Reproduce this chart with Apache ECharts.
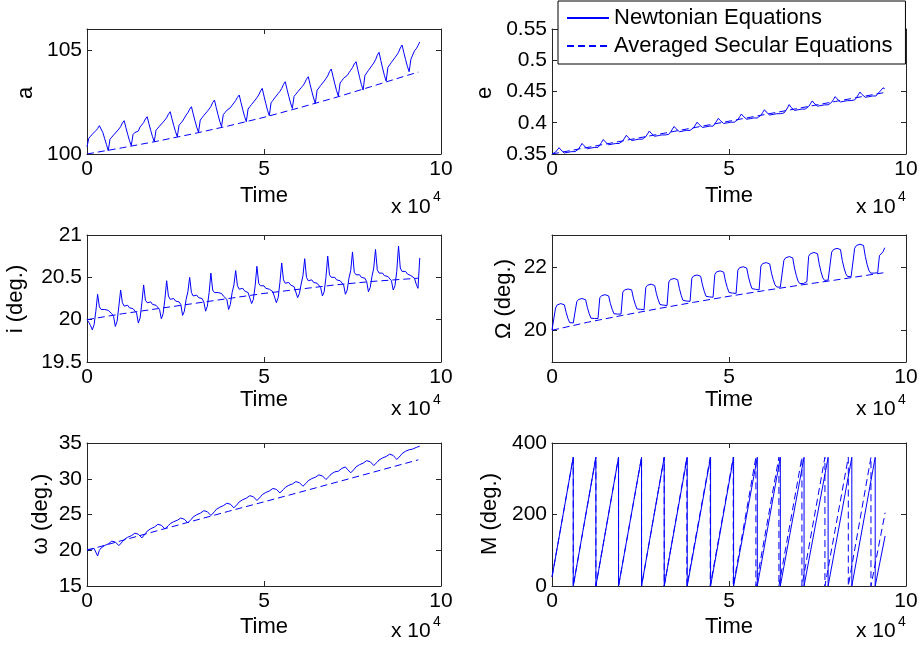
<!DOCTYPE html>
<html><head><meta charset="utf-8">
<script src="https://cdn.jsdelivr.net/npm/echarts@6/dist/echarts.min.js"></script>
<style>html,body{margin:0;padding:0;background:#fff}#c{width:922px;height:656px}</style>
</head><body><div id="c"></div>
<script>
// ---------- DATA (time in model units; axes show x 10^4) ----------
const timeGrid = [
0,500,1000,1500,2000,2500,3000,3500,4000,4500,
5000,5500,6000,6500,7000,7500,8000,8500,9000,9500,
10000,10500,11000,11500,12000,12500,13000,13500,14000,14500,
15000,15500,16000,16500,17000,17500,18000,18500,19000,19500,
20000,20500,21000,21500,22000,22500,23000,23500,24000,24500,
25000,25500,26000,26500,27000,27500,28000,28500,29000,29500,
30000,30500,31000,31500,32000,32500,33000,33500,34000,34500,
35000,35500,36000,36500,37000,37500,38000,38500,39000,39500,
40000,40500,41000,41500,42000,42500,43000,43500,44000,44500,
45000,45500,46000,46500,47000,47500,48000,48500,49000,49500,
50000,50500,51000,51500,52000,52500,53000,53500,54000,54500,
55000,55500,56000,56500,57000,57500,58000,58500,59000,59500,
60000,60500,61000,61500,62000,62500,63000,63500,64000,64500,
65000,65500,66000,66500,67000,67500,68000,68500,69000,69500,
70000,70500,71000,71500,72000,72500,73000,73500,74000,74500,
75000,75500,76000,76500,77000,77500,78000,78500,79000,79500,
80000,80500,81000,81500,82000,82500,83000,83500,84000,84500,
85000,85500,86000,86500,87000,87500,88000,88500,89000,89500,
90000,90500,91000,91500,92000,92500,93000,93500,94000];

const aNewton = [
100.35,100.75,100.85,100.95,100.92,101.12,101.22,101.36,101.28,101.02,
100.73,100.45,100.16,100.71,100.81,100.91,100.88,101.10,101.20,101.31,
101.49,101.60,101.26,100.94,100.64,100.40,100.93,101.03,101.12,101.10,
101.30,101.40,101.51,101.68,101.79,101.45,101.13,100.83,100.59,101.14,
101.24,101.34,101.31,101.53,101.63,101.74,101.91,102.03,101.69,101.37,
101.07,100.83,101.38,101.48,101.58,101.72,101.87,101.98,102.15,102.27,
101.93,101.59,101.29,101.04,101.63,101.74,101.85,101.82,102.05,102.16,
102.28,102.47,102.59,102.23,101.89,101.57,101.31,101.89,101.99,102.10,
102.07,102.22,102.34,102.45,102.57,102.72,102.83,102.47,102.13,101.81,
101.55,102.16,102.27,102.38,102.35,102.59,102.70,102.83,103.02,103.15,
102.78,102.43,102.10,101.84,102.46,102.57,102.69,102.66,102.90,103.01,
103.14,103.34,103.47,103.11,102.77,102.45,102.19,102.77,102.87,102.98,
102.95,103.18,103.28,103.41,103.59,103.71,103.35,103.01,102.69,102.43,
103.06,103.17,103.29,103.26,103.50,103.62,103.75,103.95,104.08,103.72,
103.37,103.04,102.78,103.41,103.52,103.64,103.61,103.77,103.90,104.02,
104.15,104.32,104.43,104.05,103.68,103.34,103.07,103.76,103.89,104.01,
103.98,104.25,104.37,104.52,104.74,104.88,104.49,104.12,103.78,103.50,
104.16,104.28,104.40,104.37,104.63,104.75,104.88,105.09,105.23,104.87,
104.53,104.21,103.95,104.55,104.75,104.95,105.05,105.20,105.38];

const eNewton = [
0.3500,0.3505,0.3530,0.3566,0.3601,0.3566,0.3541,0.3517,0.3532,0.3527,
0.3552,0.3538,0.3553,0.3538,0.3553,0.3579,0.3624,0.3669,0.3634,0.3609,
0.3585,0.3600,0.3595,0.3620,0.3606,0.3621,0.3606,0.3641,0.3687,0.3732,
0.3697,0.3672,0.3648,0.3663,0.3658,0.3683,0.3668,0.3684,0.3669,0.3684,
0.3709,0.3755,0.3800,0.3765,0.3740,0.3716,0.3731,0.3726,0.3751,0.3737,
0.3752,0.3737,0.3752,0.3777,0.3823,0.3868,0.3833,0.3808,0.3784,0.3799,
0.3794,0.3819,0.3805,0.3820,0.3805,0.3820,0.3816,0.3851,0.3896,0.3941,
0.3906,0.3882,0.3857,0.3872,0.3867,0.3893,0.3878,0.3893,0.3878,0.3894,
0.3919,0.3964,0.4009,0.3975,0.3950,0.3925,0.3940,0.3935,0.3961,0.3946,
0.3961,0.3946,0.3982,0.4027,0.4072,0.4037,0.4013,0.3988,0.4003,0.3998,
0.4024,0.4009,0.4024,0.4009,0.4024,0.4050,0.4095,0.4140,0.4105,0.4081,
0.4056,0.4071,0.4066,0.4092,0.4077,0.4092,0.4077,0.4093,0.4118,0.4163,
0.4208,0.4173,0.4149,0.4124,0.4139,0.4134,0.4160,0.4145,0.4160,0.4145,
0.4161,0.4156,0.4191,0.4236,0.4291,0.4247,0.4222,0.4197,0.4212,0.4208,
0.4233,0.4218,0.4233,0.4219,0.4234,0.4259,0.4304,0.4350,0.4315,0.4290,
0.4265,0.4280,0.4276,0.4301,0.4286,0.4301,0.4287,0.4302,0.4327,0.4372,
0.4418,0.4383,0.4358,0.4333,0.4349,0.4344,0.4369,0.4354,0.4369,0.4355,
0.4370,0.4365,0.4400,0.4446,0.4491,0.4456,0.4431,0.4407,0.4422,0.4417,
0.4442,0.4428,0.4443,0.4428,0.4463,0.4489,0.4524,0.4559,0.4544];

const iNewton = [
20.00,19.97,19.93,19.88,19.94,20.10,20.30,20.15,20.12,20.11,
20.12,20.10,20.11,20.09,20.07,20.04,19.92,19.98,20.16,20.35,
20.20,20.16,20.16,20.17,20.14,20.16,20.13,20.11,20.08,19.96,
20.02,20.20,20.41,20.23,20.20,20.19,20.21,20.18,20.20,20.17,
20.15,20.12,20.01,20.07,20.24,20.46,20.28,20.24,20.24,20.25,
20.22,20.24,20.21,20.18,20.05,20.10,20.24,20.33,20.50,20.32,
20.28,20.27,20.29,20.26,20.27,20.25,20.21,20.10,20.16,20.32,
20.55,20.35,20.32,20.31,20.32,20.30,20.31,20.28,20.27,20.24,
20.12,20.18,20.32,20.41,20.58,20.40,20.36,20.35,20.37,20.34,
20.35,20.32,20.30,20.19,20.24,20.40,20.63,20.43,20.40,20.39,
20.40,20.37,20.39,20.36,20.35,20.33,20.31,20.20,20.26,20.44,
20.67,20.47,20.43,20.43,20.44,20.41,20.42,20.39,20.37,20.26,
20.31,20.42,20.52,20.72,20.50,20.46,20.46,20.47,20.44,20.45,
20.43,20.41,20.38,20.28,20.33,20.50,20.75,20.53,20.50,20.49,
20.50,20.47,20.49,20.46,20.44,20.41,20.30,20.35,20.49,20.58,
20.80,20.56,20.53,20.52,20.53,20.50,20.51,20.49,20.45,20.33,
20.38,20.51,20.61,20.83,20.59,20.55,20.54,20.55,20.52,20.54,
20.51,20.49,20.46,20.35,20.40,20.57,20.87,20.61,20.57,20.56,
20.57,20.54,20.56,20.52,20.51,20.49,20.42,20.37,20.73];

const nodeNewton = [
20.01,20.03,20.70,20.80,20.78,20.84,20.86,20.80,20.56,20.37,
20.24,20.19,20.23,20.19,20.90,20.97,20.94,21.00,21.02,20.96,
20.71,20.53,20.38,20.33,20.37,20.34,20.37,21.02,21.09,21.06,
21.12,21.14,21.08,20.84,20.66,20.52,20.47,20.51,20.47,20.51,
21.20,21.27,21.24,21.30,21.33,21.27,21.01,20.82,20.67,20.61,
20.66,20.62,20.65,21.35,21.42,21.39,21.45,21.47,21.41,21.15,
20.96,20.81,20.75,20.79,20.75,20.78,21.52,21.60,21.57,21.63,
21.65,21.59,21.31,21.10,20.94,20.88,20.92,20.88,20.91,21.64,
21.71,21.68,21.74,21.76,21.70,21.43,21.23,21.07,21.01,21.05,
21.01,21.04,21.76,21.84,21.81,21.87,21.89,21.83,21.55,21.35,
21.19,21.13,21.17,21.13,21.16,21.89,21.97,21.94,22.00,22.02,
21.96,21.68,21.47,21.31,21.25,21.29,21.24,21.27,22.02,22.10,
22.07,22.13,22.15,22.09,21.80,21.59,21.43,21.36,21.40,21.36,
21.39,22.20,22.28,22.25,22.32,22.34,22.28,21.96,21.73,21.55,
21.47,21.51,21.47,21.49,21.53,22.33,22.41,22.38,22.45,22.47,
22.41,22.08,21.84,21.65,21.57,21.61,21.58,21.61,22.46,22.54,
22.51,22.58,22.60,22.54,22.20,21.96,21.78,21.69,21.73,21.69,
21.72,22.58,22.67,22.64,22.71,22.74,22.67,22.33,22.08,21.89,
21.80,21.84,21.80,21.82,21.81,22.35,22.40,22.47,22.60];

const periNewton = [
20.10,20.00,20.15,19.95,20.25,20.05,19.20,19.99,20.33,20.44,
20.66,20.60,20.89,21.11,21.27,21.45,21.15,20.90,20.65,20.45,
21.19,21.50,21.61,21.82,21.75,22.03,22.24,22.38,22.55,22.24,
21.99,21.73,21.53,22.33,22.67,22.78,23.01,22.94,23.23,23.46,
23.62,23.80,23.50,23.25,22.99,22.79,23.44,23.72,23.81,24.00,
23.94,24.19,24.37,24.50,24.65,24.34,24.08,23.83,23.62,24.35,
24.66,24.76,24.97,24.91,25.18,25.39,25.53,25.70,25.39,25.12,
24.86,24.65,25.39,25.70,25.81,26.02,25.95,26.23,26.44,26.58,
26.75,26.44,26.18,25.93,25.72,26.45,26.76,26.86,27.07,27.01,
27.28,27.49,27.63,27.80,27.49,27.22,26.96,26.75,27.47,27.78,
27.88,28.08,28.02,28.29,28.49,28.64,28.80,28.51,28.26,28.02,
27.82,28.50,28.79,28.88,29.08,29.02,29.27,29.46,29.60,29.75,
29.45,29.20,28.95,28.75,29.43,29.73,29.82,30.02,29.96,30.21,
30.41,30.54,30.70,30.40,30.15,29.89,29.69,30.38,30.67,30.77,
30.96,30.91,31.06,31.26,31.45,31.55,31.65,31.34,31.08,30.83,
30.62,31.35,31.66,31.76,31.97,31.91,32.18,32.39,32.53,32.70,
32.38,32.12,31.85,31.64,32.33,32.62,32.72,32.91,32.86,33.11,
33.31,33.44,33.60,33.26,32.98,32.70,32.48,33.20,33.52,33.62,
33.85,33.80,34.05,34.20,34.15,34.30,34.38,34.45,34.55];

// Averaged secular solution (dashed)
const aSecT = [0,10000,20000,30000,40000,50000,60000,70000,80000,90000,93600];
const aSecV = [100.0,100.3,100.62,100.97,101.35,101.76,102.22,102.7,103.22,103.75,103.93];
const eSecT = [0,20000,40000,60000,80000,93600];
const eSecV = [0.350,0.371,0.392,0.413,0.434,0.448];
const iSecT = [0,10000,20000,30000,40000,50000,60000,70000,80000,93600];
const iSecV = [20.0,20.07,20.13,20.19,20.25,20.31,20.36,20.41,20.45,20.49];
const nodeSecT = [0,10000,20000,30000,40000,50000,60000,70000,80000,93600];
const nodeSecV = [20.0,20.25,20.47,20.68,20.88,21.07,21.25,21.42,21.58,21.81];
const periSecT = [0,20000,40000,60000,80000,93600];
const periSecV = [20.0,22.75,25.45,28.1,30.8,32.65];

// Mean anomaly (wraps 360 -> 0)
const mNewtonT = [0,6000,6000,12400,12400,18800,18800,25300,25300,31700,31700,38200,38200,44800,44800,51300,51300,58000,58000,64500,64500,71200,71200,78000,78000,84700,84700,91300,91300,94100];
const mNewtonV = [25,360,0,360,0,360,0,360,0,360,0,360,0,360,0,360,0,360,0,360,0,360,0,360,0,360,0,360,0,140];
const mSecT = [0,6000,6000,12400,12400,18800,18800,25300,25300,31700,31700,38100,38100,44700,44700,51200,51200,57600,57600,64100,64100,70600,70600,77100,77100,83700,83700,90100,90100,94100];
const mSecV = [25,360,0,360,0,360,0,360,0,360,0,360,0,360,0,360,0,360,0,360,0,360,0,360,0,360,0,360,0,205];

// Axis tick values
const xTicks = [0, 50000, 100000];
const yTicksA = [100, 105];
const yTicksE = [0.35, 0.4, 0.45, 0.5, 0.55];
const yTicksI = [19.5, 20, 20.5, 21];
const yTicksNode = [20, 22];
const yTicksPeri = [15, 20, 25, 30, 35];
const yTicksM = [0, 200, 400];

const NAME_N = 'Newtonian Equations';
const NAME_S = 'Averaged Secular Equations';

// ---------- LAYOUT ----------
const FONT = '"Liberation Sans", Arial, Helvetica, sans-serif';
const LINE = '#0000ff';
const AX = '#262626';
const W = 354;
const pair = (xs, ys) => xs.map((x, k) => [x, ys[k]]);

const panels = [
  {left: 87,  top: 29,  height: 125, yMin: 100,  yMax: 106,  ticks: yTicksA,    solid: pair(timeGrid, aNewton),    dashed: pair(aSecT, aSecV)},
  {left: 552, top: 29,  height: 125, yMin: 0.35, yMax: 0.55, ticks: yTicksE,    solid: pair(timeGrid, eNewton),    dashed: pair(eSecT, eSecV)},
  {left: 87,  top: 235, height: 127, yMin: 19.5, yMax: 21,   ticks: yTicksI,    solid: pair(timeGrid, iNewton),    dashed: pair(iSecT, iSecV)},
  {left: 552, top: 235, height: 127, yMin: 19,   yMax: 23,   ticks: yTicksNode, solid: pair(timeGrid, nodeNewton), dashed: pair(nodeSecT, nodeSecV)},
  {left: 87,  top: 443, height: 143, yMin: 15,   yMax: 35,   ticks: yTicksPeri, solid: pair(timeGrid, periNewton), dashed: pair(periSecT, periSecV)},
  {left: 552, top: 443, height: 143, yMin: 0,    yMax: 400,  ticks: yTicksM,    solid: pair(mNewtonT, mNewtonV),   dashed: pair(mSecT, mSecV)}
];

const grids = [], xAxes = [], yAxes = [], series = [];
panels.forEach((p, g) => {
  grids.push({left: p.left, top: p.top, width: W, height: p.height, show: false, containLabel: false});
  const common = {
    axisLine: {show: true, onZero: false, lineStyle: {color: AX, width: 1}},
    axisTick: {show: true, inside: true, length: 5, lineStyle: {color: AX, width: 1}},
    splitLine: {show: false}
  };
  xAxes.push(Object.assign({}, common, {
    type: 'value', gridIndex: g, position: 'bottom', min: 0, max: 100000, interval: 50000,
    axisTick: Object.assign({}, common.axisTick, {customValues: xTicks}),
    axisLabel: {show: true, customValues: xTicks, margin: 5, color: '#000', fontSize: 21, fontFamily: FONT,
      formatter: v => String(Math.round(v / 10000))}
  }));
  xAxes.push(Object.assign({}, common, {
    type: 'value', gridIndex: g, position: 'top', min: 0, max: 100000, interval: 50000,
    axisTick: Object.assign({}, common.axisTick, {customValues: xTicks}),
    axisLabel: {show: false}
  }));
  yAxes.push(Object.assign({}, common, {
    type: 'value', gridIndex: g, position: 'left', min: p.yMin, max: p.yMax,
    axisTick: Object.assign({}, common.axisTick, {customValues: p.ticks}),
    axisLabel: {show: true, customValues: p.ticks, margin: 5, color: '#000', fontSize: 21, fontFamily: FONT}
  }));
  yAxes.push(Object.assign({}, common, {
    type: 'value', gridIndex: g, position: 'right', min: p.yMin, max: p.yMax,
    axisTick: Object.assign({}, common.axisTick, {customValues: p.ticks}),
    axisLabel: {show: false}
  }));
  series.push({
    type: 'line', name: NAME_N, xAxisIndex: 2 * g, yAxisIndex: 2 * g, data: p.solid,
    showSymbol: false, symbol: 'none', silent: true, animation: false,
    lineStyle: {color: LINE, width: 1}, itemStyle: {color: LINE}
  });
  series.push({
    type: 'line', name: NAME_S, xAxisIndex: 2 * g, yAxisIndex: 2 * g, data: p.dashed,
    showSymbol: false, symbol: 'none', silent: true, animation: false,
    lineStyle: {color: LINE, width: 1, type: [7, 4]}, itemStyle: {color: LINE}
  });
});

function label(x, y, text, size, opts) {
  opts = opts || {};
  return {
    type: 'text', x: x, y: y, rotation: opts.rot ? Math.PI / 2 : 0, silent: true, z: 10,
    style: {
      text: text, x: 0, y: 0, fill: '#000', fontSize: size, fontFamily: FONT,
      align: opts.align || 'center', verticalAlign: 'middle',
      textAlign: opts.align || 'center', textVerticalAlign: 'middle'
    }
  };
}

const graphics = [];
// y-axis names
graphics.push(label(26, 93, 'a', 22, {rot: true}));
graphics.push(label(485, 93, 'e', 22, {rot: true}));
graphics.push(label(16, 299, 'i (deg.)', 22, {rot: true}));
graphics.push(label(504, 299, '\u03A9 (deg.)', 22, {rot: true}));
graphics.push(label(41, 514, '\u03C9 (deg.)', 22, {rot: true}));
graphics.push(label(490, 514, 'M (deg.)', 22, {rot: true}));
// x-axis names and exponent
const rowTime = [196, 400, 627];
const rowExp = [207, 409, 631];
const rowSup = [197, 400, 622];
[0, 1, 2].forEach(r => {
  [0, 465].forEach(dx => {
    graphics.push(label(264 + dx, rowTime[r], 'Time', 22));
    graphics.push(label(391 + dx, rowExp[r], 'x 10', 21, {align: 'left'}));
    graphics.push(label(433 + dx, rowSup[r], '4', 14, {align: 'left'}));
  });
});

const chart = echarts.init(document.getElementById('c'), null, {renderer: 'canvas'});
chart.setOption({
  animation: false,
  backgroundColor: '#fff',
  grid: grids, xAxis: xAxes, yAxis: yAxes, series: series,
  legend: {
    show: true, left: 558, top: 1, orient: 'vertical', selectedMode: false,
    data: [NAME_N, NAME_S],
    itemWidth: 42, itemHeight: 14, itemGap: 6,
    padding: [6, 13, 7, 8],
    borderColor: '#000', borderWidth: 1, backgroundColor: '#fff', z: 20,
    itemStyle: {opacity: 0},
    textStyle: {fontSize: 22, color: '#000', fontFamily: FONT}
  },
  graphic: graphics
});
</script>
</body></html>
